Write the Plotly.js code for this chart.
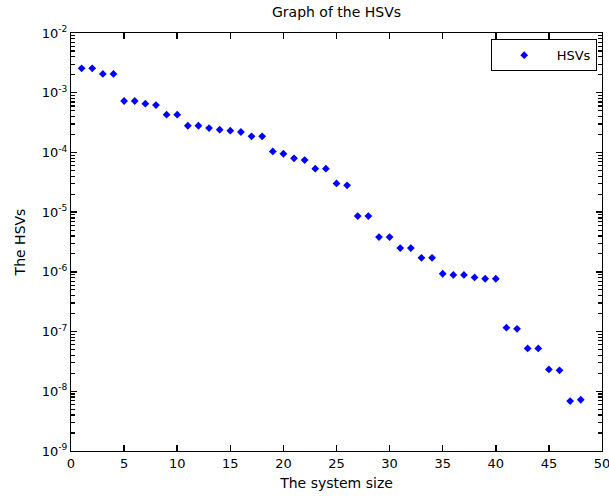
<!DOCTYPE html>
<html>
<head>
<meta charset="utf-8">
<script src="https://cdn.plot.ly/plotly-3.0.1.min.js"></script>
<style>html,body{margin:0;padding:0;background:#fff;}#chart{width:609px;height:499px;}</style>
</head>
<body>
<div id="chart"></div>
<script>
const systemSize = [1,2,3,4,5,6,7,8,9,10,11,12,13,14,15,16,17,18,19,20,21,22,23,24,25,26,27,28,29,30,31,32,33,34,35,36,37,38,39,40,41,42,43,44,45,46,47,48];
const hsvValues = [
  2.56e-3, 2.56e-3, 2.06e-3, 2.06e-3, 7.26e-4, 7.26e-4, 6.55e-4, 6.2e-4,
  4.28e-4, 4.28e-4, 2.8e-4, 2.8e-4, 2.56e-4, 2.4e-4, 2.31e-4, 2.2e-4,
  1.86e-4, 1.86e-4, 1.04e-4, 9.5e-5, 7.96e-5, 7.46e-5, 5.34e-5, 5.34e-5,
  3.03e-5, 2.81e-5, 8.6e-6, 8.6e-6, 3.83e-6, 3.83e-6, 2.5e-6, 2.5e-6,
  1.72e-6, 1.72e-6, 9.3e-7, 8.9e-7, 8.9e-7, 8.07e-7, 7.66e-7, 7.66e-7,
  1.16e-7, 1.11e-7, 5.23e-8, 5.23e-8, 2.32e-8, 2.24e-8, 6.86e-9, 7.22e-9
];
const xTickVals = [0,5,10,15,20,25,30,35,40,45,50];
const yTickVals = [1e-9,1e-8,1e-7,1e-6,1e-5,1e-4,1e-3,1e-2];
const yTickText = ['10<sup>-9</sup>','10<sup>-8</sup>','10<sup>-7</sup>','10<sup>-6</sup>','10<sup>-5</sup>','10<sup>-4</sup>','10<sup>-3</sup>','10<sup>-2</sup>'];
const minorDigits = [2,3,4,5,6,7,8,9];

const yMinorVals = [];
yTickVals.slice(0, -1).forEach(function (d) {
  minorDigits.forEach(function (m) { yMinorVals.push(d * m); });
});

const font = 'DejaVu Sans, Liberation Sans, Arial, sans-serif';
const trace = {
  x: systemSize, y: hsvValues, type: 'scatter', mode: 'markers', name: 'HSVs',
  marker: {symbol: 'diamond', size: 6, color: '#0000ff'}
};
const minorTickCarrier = {
  x: [null], y: [null], type: 'scatter', mode: 'markers', yaxis: 'y2',
  showlegend: false, hoverinfo: 'skip'
};
const layout = {
  width: 609, height: 499,
  margin: {l: 71, r: 7, t: 33, b: 48},
  paper_bgcolor: '#ffffff', plot_bgcolor: '#ffffff',
  font: {family: font, size: 13, color: '#000'},
  title: {text: 'Graph of the HSVs', font: {family: font, size: 14, color: '#000'}, x: 0.5, xref: 'paper', y: 0.976, yanchor: 'middle'},
  xaxis: {
    range: [0, 50], tickvals: xTickVals, ticks: 'inside', ticklen: 6, tickwidth: 1.5, tickcolor: '#000',
    showline: true, linecolor: '#000', linewidth: 1, mirror: 'ticks', showgrid: false, zeroline: false,
    tickfont: {family: font, size: 13}, ticklabeloverflow: 'allow',
    title: {text: 'The system size', font: {family: font, size: 14}, standoff: 8}
  },
  yaxis: {
    type: 'log', range: [-9, -2], tickvals: yTickVals, ticktext: yTickText,
    ticks: 'inside', ticklen: 6, tickwidth: 1.5, tickcolor: '#000',
    showline: true, linecolor: '#000', linewidth: 1, mirror: 'ticks', showgrid: false, zeroline: false,
    tickfont: {family: font, size: 13}, ticklabeloverflow: 'allow',
    title: {text: 'The HSVs', font: {family: font, size: 14}, standoff: 12}
  },
  yaxis2: {
    type: 'log', range: [-9, -2], overlaying: 'y', side: 'left', anchor: 'x',
    tickmode: 'array', tickvals: yMinorVals, ticks: 'inside', ticklen: 4, tickwidth: 1.2, tickcolor: '#000',
    showticklabels: false, showline: true, linecolor: '#000', linewidth: 1,
    mirror: 'ticks', showgrid: false, zeroline: false
  },
  showlegend: true,
  legend: {
    x: 0.99, y: 0.985, xanchor: 'right', yanchor: 'top',
    bordercolor: '#000', borderwidth: 1, bgcolor: '#fff',
    font: {family: font, size: 13}, itemwidth: 55
  }
};
Plotly.newPlot('chart', [trace, minorTickCarrier], layout, {displayModeBar: false, staticPlot: true});
</script>
</body>
</html>
